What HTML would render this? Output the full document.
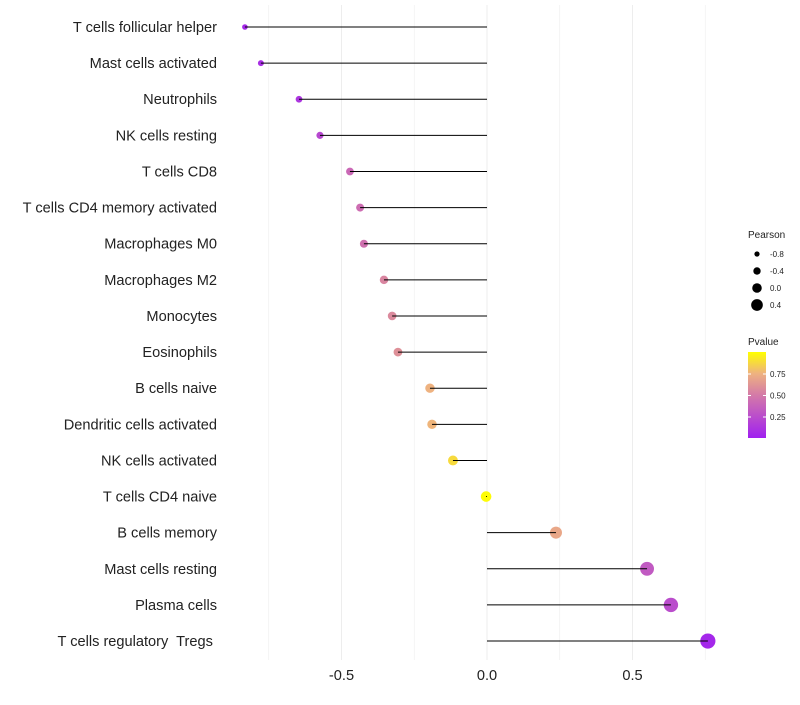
<!DOCTYPE html>
<html><head><meta charset="utf-8"><style>
body{margin:0;background:#fff;font-family:"Liberation Sans",sans-serif}
</style></head><body>
<svg id="chart" width="800" height="700"></svg>
<script>
const categories=["T cells follicular helper","Mast cells activated","Neutrophils","NK cells resting","T cells CD8","T cells CD4 memory activated","Macrophages M0","Macrophages M2","Monocytes","Eosinophils","B cells naive","Dendritic cells activated","NK cells activated","T cells CD4 naive","B cells memory","Mast cells resting","Plasma cells","T cells regulatory  Tregs "];
const pearson=[-0.832,-0.777,-0.646,-0.574,-0.471,-0.436,-0.423,-0.354,-0.326,-0.306,-0.196,-0.189,-0.117,-0.003,0.237,0.55,0.632,0.759];
const pvalues=[0.05,0.08,0.12,0.22,0.4,0.43,0.45,0.55,0.57,0.6,0.75,0.76,0.88,0.99,0.7,0.32,0.25,0.04];
const xTicks=[-0.5,0,0.5];
const xTickLabels=["-0.5","0.0","0.5"];
const gridVals=[-0.75,-0.5,-0.25,0,0.25,0.5,0.75];
const sizeLegend=[-0.8,-0.4,0.0,0.4];
const colorLegend=[0.25,0.5,0.75];

const NS="http://www.w3.org/2000/svg";
const svg=document.getElementById('chart');
function x(v){return 487+v*291;}
function y(i){return 27+i*36.12;}
function r(v){return 5.3+3*v;}
function col(p){
  const stops=[[0,[160,32,240]],[0.5,[212,122,168]],[0.75,[238,178,128]],[1,[255,255,0]]];
  p=Math.max(0,Math.min(1,p));
  let k=0;while(k<stops.length-2&&p>stops[k+1][0])k++;
  const a=stops[k],b=stops[k+1];
  const t=(p-a[0])/(b[0]-a[0]);
  const c=a[1].map((v,j)=>Math.round(v+(b[1][j]-v)*t));
  return `rgb(${c.join(',')})`;
}
function el(tag,attrs,parent){const e=document.createElementNS(NS,tag);for(const k in attrs)e.setAttribute(k,attrs[k]);(parent||svg).appendChild(e);return e;}

gridVals.forEach(v=>{
  const g=el('line',{x1:x(v),x2:x(v),y1:5,y2:660,stroke:'#ededed','stroke-width':v%0.5===0?1:0.6});
  
  
});
xTicks.forEach((v,i)=>{
  const t=el('text',{x:x(v),y:680,'text-anchor':'middle','font-size':14.6,fill:'#222'});
  t.textContent=xTickLabels[i];
  
  
});
categories.forEach((c,i)=>{
  const t=el('text',{x:217,y:y(i)+5,'text-anchor':'end','font-size':14.6,fill:'#222'});
  t.setAttribute('xml:space','preserve');
  t.style.whiteSpace='pre';
  t.textContent=c;
  
  
  const p=el('circle',{cx:x(pearson[i]),cy:y(i),r:r(pearson[i]),fill:col(pvalues[i])});
  
  
  const l=el('line',{x1:x(0),x2:x(pearson[i]),y1:y(i),y2:y(i),stroke:'#000','stroke-width':1});
  
  
});
const st=el('text',{x:748,y:238,'font-size':10,fill:'#222'});st.textContent='Pearson';


sizeLegend.forEach((v,i)=>{
  const cy=254+i*17;
  const c=el('circle',{cx:757,cy:cy,r:r(v)*0.9,fill:'#000'});
  
  
  const t=el('text',{x:770,y:cy+3,'font-size':8,fill:'#222'});t.textContent=v.toFixed(1);
  
  
});
const ct=el('text',{x:748,y:345,'font-size':10,fill:'#222'});ct.textContent='Pvalue';


const defs=el('defs',{});
const lg=el('linearGradient',{id:'pg',x1:0,y1:1,x2:0,y2:0},defs);
[0,0.25,0.5,0.75,1].forEach(o=>el('stop',{offset:o,'stop-color':col(o)},lg));
const bar=el('rect',{x:748,y:352,width:18,height:86,fill:'url(#pg)'});


colorLegend.forEach(v=>{
  const yy=438.5-v*86;
  el('line',{x1:748,x2:751,y1:yy,y2:yy,stroke:'#fff'});
  el('line',{x1:763,x2:766,y1:yy,y2:yy,stroke:'#fff'});
  const t=el('text',{x:770,y:yy+3,'font-size':8,fill:'#222'});t.textContent=v.toFixed(2);
  
  
});
</script>
</body></html>
